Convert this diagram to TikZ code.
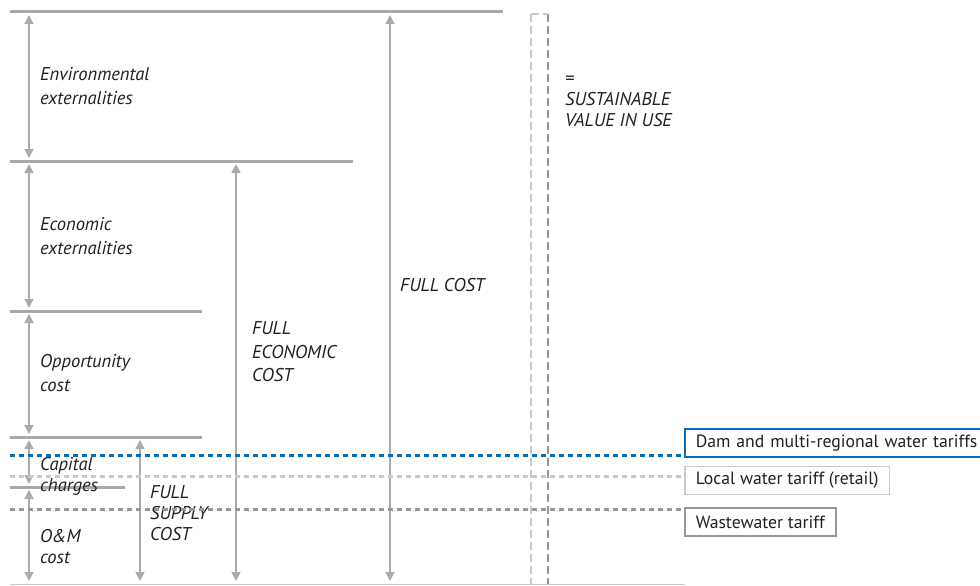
\documentclass[tikz,border=0pt]{standalone}
\usepackage{fontspec}
\setmainfont{PT Sans}
\usetikzlibrary{arrows.meta}
\definecolor{barg}{HTML}{A7A9AC}
\definecolor{arrg}{HTML}{ABABAE}
\definecolor{txtg}{HTML}{231F20}
\definecolor{tblue}{HTML}{0B6DB7}
\definecolor{lgray}{HTML}{C9C9C9}
\definecolor{dgray}{HTML}{969696}
\tikzset{
  level/.style={draw=barg, line width=3pt},
  span/.style={draw=arrg, line width=1.3pt, shorten <=3pt, shorten >=3pt,
    {Triangle[width=9pt,length=9pt]}-{Triangle[width=9pt,length=9pt]}},
  lbl/.style={anchor=west, align=left, inner sep=0pt, text=txtg,
    font=\itshape\fontsize{18.5}{23.5}\selectfont},
  tight/.style={font=\itshape\fontsize{18.5}{21}\selectfont},
  tariff/.style={anchor=west, draw, line width=1.6pt, inner xsep=11pt,
    minimum height=28pt, text=txtg, font=\fontsize{17.7}{20}\selectfont},
  tline/.style={line width=3pt, dash pattern=on 5pt off 4pt},
  vdash/.style={line width=1.8pt, dash pattern=on 8pt off 4pt}
}
\begin{document}
\begin{tikzpicture}[x=1pt,y=-1pt]
\useasboundingbox (0,0) rectangle (980,586);
\clip (0,0) rectangle (980,586);

% cost levels
\coordinate (top) at (10,12);
\coordinate (econ) at (10,161);
\coordinate (opp) at (10,311);
\coordinate (cap) at (10,437);
\coordinate (om) at (10,487);
\coordinate (base) at (10,584);

\draw[level] (top) -- ++(493,0);
\draw[level] (econ) -- ++(343,0);
\draw[level] (opp) -- ++(192,0);
\draw[level] (cap) -- ++(192,0);
\draw[level] (om) -- ++(115,0);
\draw[draw=lgray, line width=1pt] (base) -- ++(675,0);

% component spans
\draw[span] ([xshift=19pt]top) -- ([xshift=19pt]econ);
\draw[span] ([xshift=19pt]econ) -- ([xshift=19pt]opp);
\draw[span] ([xshift=19pt]opp) -- ([xshift=19pt]cap);
\draw[span] ([xshift=19pt]cap) -- ([xshift=19pt]om);
\draw[span] ([xshift=19pt]om) -- ([xshift=19pt]base);

% aggregate spans
\draw[span] ([xshift=130pt]cap) -- ([xshift=130pt]base);
\draw[span] ([xshift=226pt]econ) -- ([xshift=226pt]base);
\draw[span] ([xshift=380pt]top) -- ([xshift=380pt]base);

% sustainable value bracket
\coordinate (sl) at (531,14);
\coordinate (sr) at (548,14);
\draw[vdash, draw=lgray] (sl) -- (sl |- base);
\draw[vdash, draw=dgray] (sr) -- (sr |- base);
\draw[vdash, draw=lgray] (sl) -- (sr);

% labels
\node[lbl] (envl) at (40,86) {Environmental\\externalities};
\node[lbl] (econl) at (40,236) {Economic\\externalities};
\node[lbl] (oppl) at (40,373) {Opportunity\\cost};
\node[lbl, tight] (capl) at (40,476) {Capital\\charges};
\node[lbl, tight] (oml) at (40,547) {O\&M\\cost};
\node[lbl, tight] (fsc) at (150,513) {FULL\\SUPPLY\\COST};
\node[lbl] (fec) at (252,352) {FULL\\ECONOMIC\\COST};
\node[lbl] (fc) at (400,285) {FULL COST};
\node[lbl, tight] (svu) at (565,101) {=\\SUSTAINABLE\\VALUE IN USE};

% tariff boxes
\node[tariff, draw=tblue, text width=300pt] (dam) at (684,443) {Dam and multi-regional water tariffs};
\node[tariff, draw=lgray] (loc) at (684,480.5) {Local water tariff (retail)};
\node[tariff, draw=dgray] (ww) at (684,522) {Wastewater tariff};

% tariff levels
\coordinate (b1) at (10,455);
\coordinate (b2) at (10,476);
\coordinate (b3) at (10,509);
\draw[tline, draw=tblue] (b1) -- (b1 -| dam.west);
\draw[tline, draw=lgray] (b2) -- (b2 -| loc.west);
\draw[tline, draw=dgray] (b3) -- (b3 -| ww.west);
\end{tikzpicture}
\end{document}
